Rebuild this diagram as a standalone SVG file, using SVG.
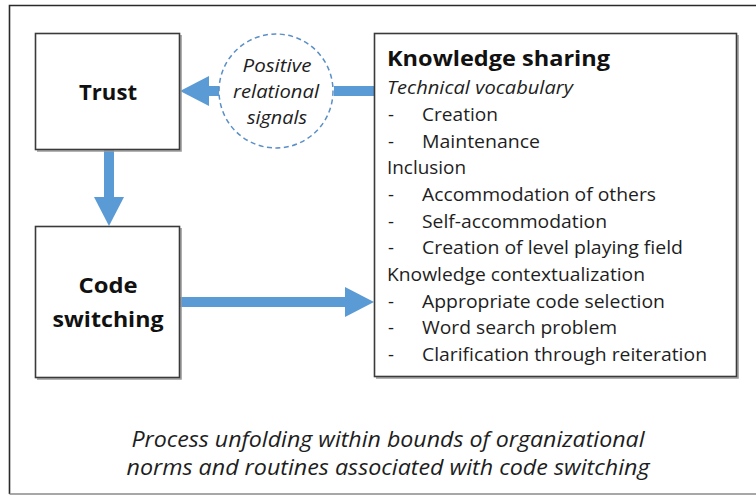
<svg xmlns="http://www.w3.org/2000/svg" width="756" height="495" viewBox="0 0 756 495">
  <style>
    .box { fill: #ffffff; stroke: #3a3a3a; stroke-width: 1.6; }
    .shadow { fill: none; stroke: #9a9a9a; stroke-width: 1.6; }
    .title { font-family: "Open Sans", "Noto Sans", sans-serif; font-weight: bold; font-size: 22px; fill: #111111; }
    .item { font-family: "Open Sans", "Noto Sans", sans-serif; font-size: 18.5px; fill: #1e1e1e; }
    .note { font-family: "Open Sans", "Noto Sans", sans-serif; font-size: 21px; font-style: italic; fill: #1e1e1e; }
    .ital { font-style: italic; }
    .flow { stroke: #5B9BD5; stroke-width: 10; fill: none; }
    .head { fill: #5B9BD5; }
  </style>

  <rect x="0" y="0" width="756" height="495" fill="#ffffff"/>
  <!-- outer frame -->
  <path d="M 9.5 494 L 9.5 5.5 L 756 5.5" fill="none" stroke="#2a2a2a" stroke-width="1.6"/>
  <line x1="9.5" y1="494" x2="756" y2="494" stroke="#8a8a8a" stroke-width="1.6"/>

  <!-- connectors -->
  <g id="connectors">
    <line class="flow" x1="374" y1="91" x2="334" y2="91"/>
    <line class="flow" x1="220" y1="91" x2="205" y2="91"/>
    <polygon class="head" points="180,91 209,76 209,106"/>
    <line class="flow" x1="109" y1="149" x2="109" y2="200"/>
    <polygon class="head" points="109,226 94,197 124,197"/>
    <line class="flow" x1="180" y1="302" x2="348" y2="302"/>
    <polygon class="head" points="374,302 345,287 345,317"/>
  </g>

  <g id="trust">
    <path class="shadow" d="M 181 35 L 181 151 L 37 151"/>
    <rect class="box" x="35.5" y="33.5" width="144" height="116"/>
    <text class="title" x="108" y="100" text-anchor="middle" textLength="58" lengthAdjust="spacingAndGlyphs">Trust</text>
  </g>

  <g id="code-switching">
    <path class="shadow" d="M 181 228 L 181 379 L 37 379"/>
    <rect class="box" x="35.5" y="226.5" width="144" height="151"/>
    <text class="title" x="108" y="293" text-anchor="middle" textLength="59" lengthAdjust="spacingAndGlyphs">Code</text>
    <text class="title" x="108" y="327" text-anchor="middle" textLength="111" lengthAdjust="spacingAndGlyphs">switching</text>
  </g>

  <g id="signals">
    <circle cx="276" cy="91" r="57" fill="#ffffff" stroke="#5B8FC7" stroke-width="1.5" stroke-dasharray="5 3.5"/>
    <text class="item ital" x="277" y="72" text-anchor="middle" textLength="69" lengthAdjust="spacingAndGlyphs">Positive</text>
    <text class="item ital" x="276" y="98" text-anchor="middle" textLength="86" lengthAdjust="spacingAndGlyphs">relational</text>
    <text class="item ital" x="277" y="124" text-anchor="middle" textLength="60" lengthAdjust="spacingAndGlyphs">signals</text>
  </g>

  <g id="knowledge-sharing">
    <path class="shadow" d="M 738 35 L 738 378 L 376 378"/>
    <rect class="box" x="374.5" y="33.5" width="362" height="343"/>
    <text class="title" x="387" y="66" textLength="223" lengthAdjust="spacingAndGlyphs">Knowledge sharing</text>
    <text class="item ital" x="387" y="94" textLength="186" lengthAdjust="spacingAndGlyphs">Technical vocabulary</text>
    <g class="item">
      <text x="388" y="121">-</text><text x="422" y="121" textLength="76" lengthAdjust="spacingAndGlyphs">Creation</text>
      <text x="388" y="148">-</text><text x="422" y="148" textLength="118" lengthAdjust="spacingAndGlyphs">Maintenance</text>
      <text x="387" y="174" textLength="79" lengthAdjust="spacingAndGlyphs">Inclusion</text>
      <text x="388" y="201">-</text><text x="422" y="201" textLength="234" lengthAdjust="spacingAndGlyphs">Accommodation of others</text>
      <text x="388" y="228">-</text><text x="422" y="228" textLength="185" lengthAdjust="spacingAndGlyphs">Self-accommodation</text>
      <text x="388" y="254">-</text><text x="422" y="254" textLength="261" lengthAdjust="spacingAndGlyphs">Creation of level playing field</text>
      <text x="387" y="281" textLength="258" lengthAdjust="spacingAndGlyphs">Knowledge contextualization</text>
      <text x="388" y="308">-</text><text x="422" y="308" textLength="243" lengthAdjust="spacingAndGlyphs">Appropriate code selection</text>
      <text x="388" y="334">-</text><text x="422" y="334" textLength="195" lengthAdjust="spacingAndGlyphs">Word search problem</text>
      <text x="388" y="361">-</text><text x="422" y="361" textLength="285" lengthAdjust="spacingAndGlyphs">Clarification through reiteration</text>
    </g>
  </g>

  <g id="caption">
    <text class="note" x="388" y="447" text-anchor="middle" textLength="513" lengthAdjust="spacingAndGlyphs">Process unfolding within bounds of organizational</text>
    <text class="note" x="388" y="475" text-anchor="middle" textLength="523" lengthAdjust="spacingAndGlyphs">norms and routines associated with code switching</text>
  </g>
</svg>
